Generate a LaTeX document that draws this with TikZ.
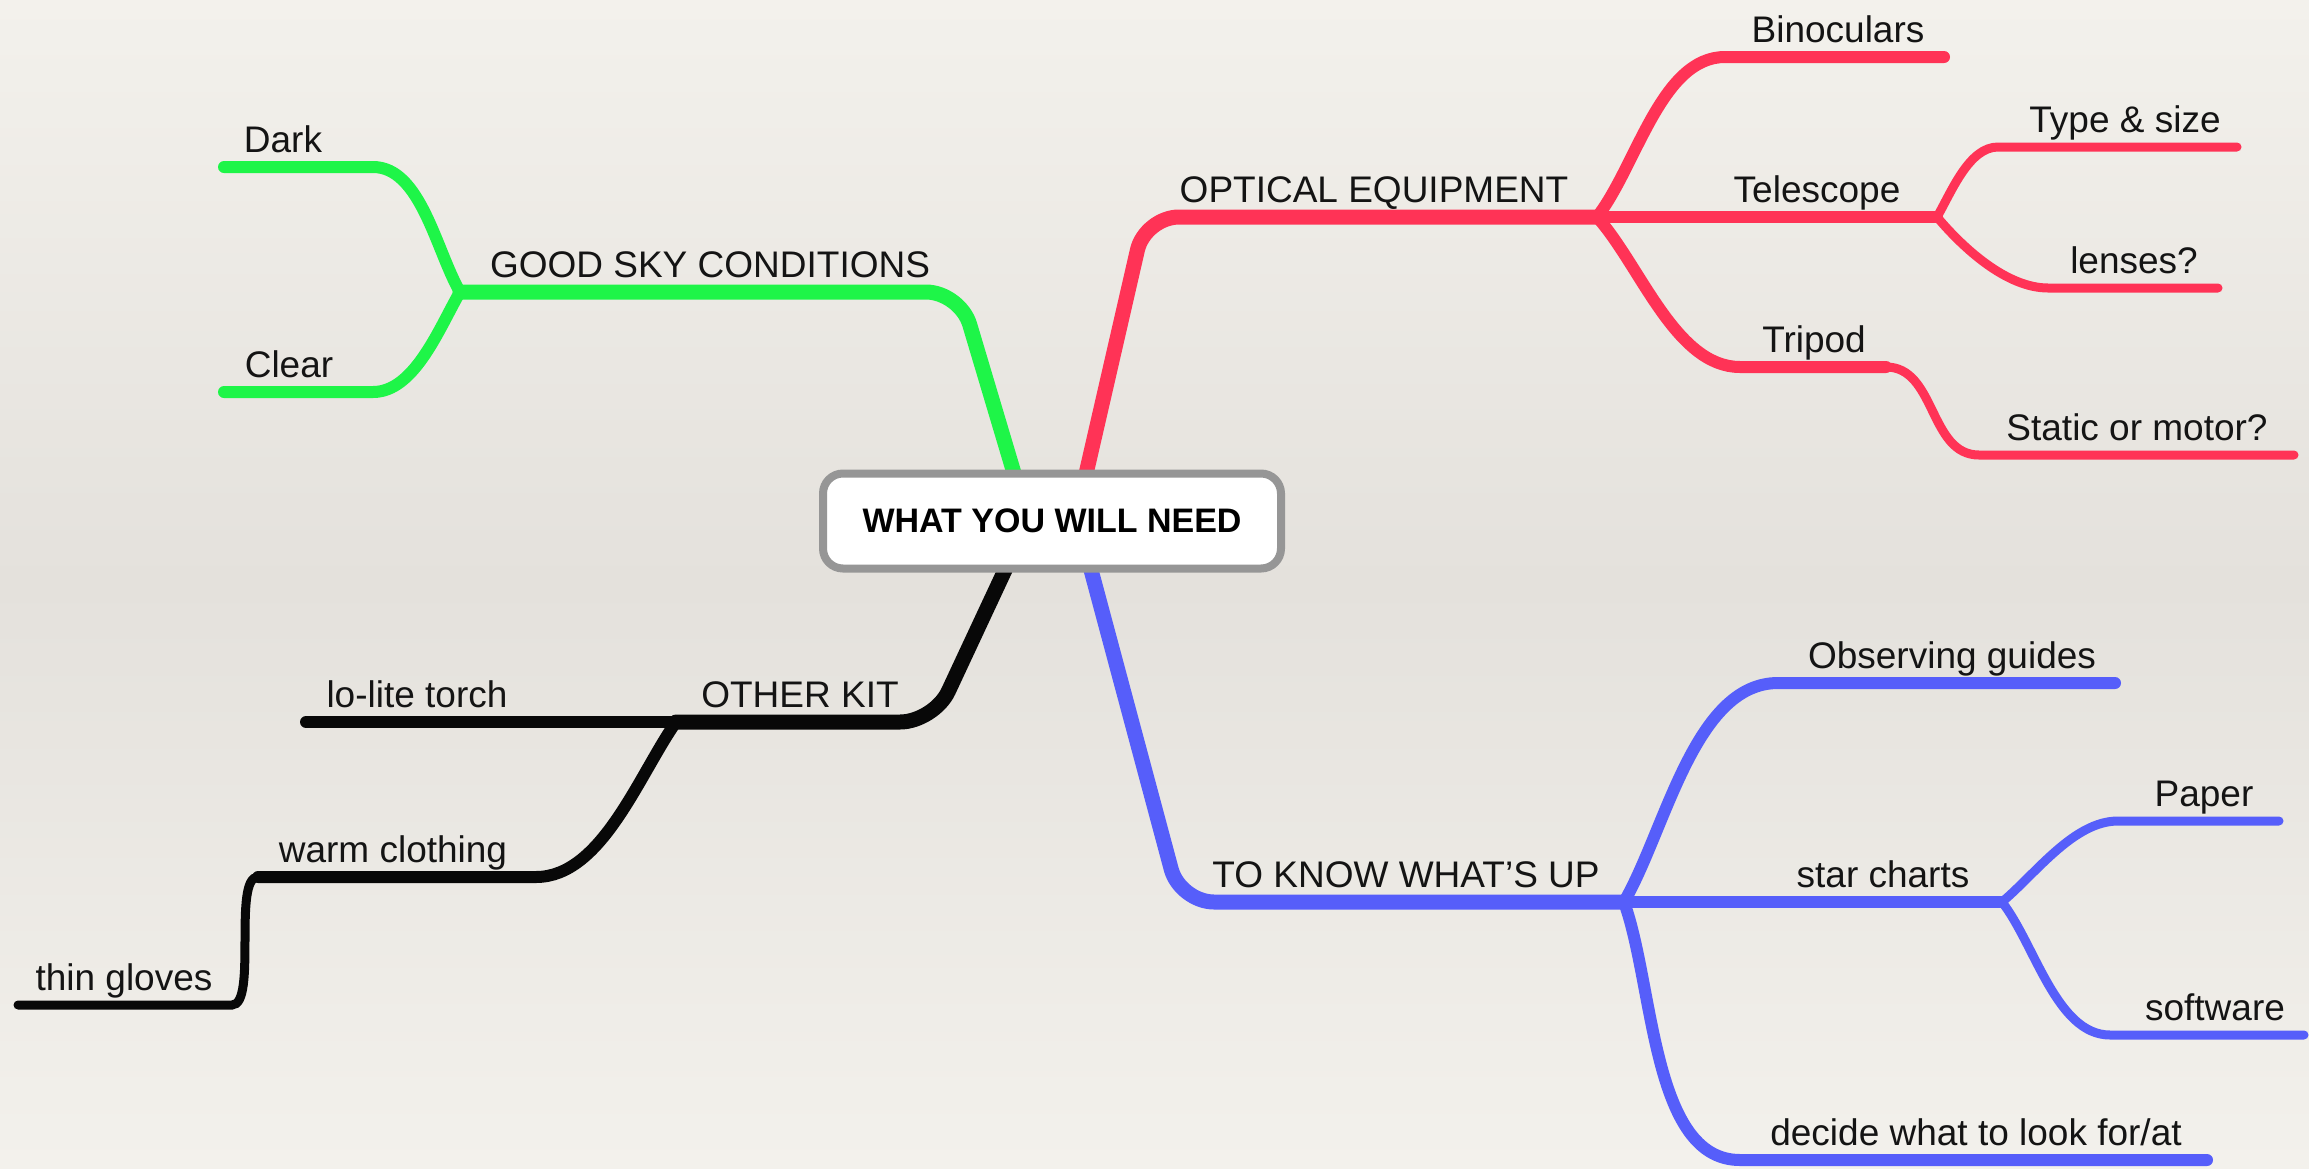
\documentclass[tikz,border=0pt]{standalone}
\usepackage{fontspec}
\setmainfont{Liberation Sans}
\definecolor{skygreen}{RGB}{30,245,72}
\definecolor{optred}{RGB}{255,51,86}
\definecolor{knowblue}{RGB}{86,94,250}
\definecolor{kitblack}{RGB}{8,8,8}
\definecolor{paper}{RGB}{243,241,236}
\definecolor{paperdark}{RGB}{228,225,220}
\definecolor{boxgrey}{RGB}{150,150,150}
\definecolor{ink}{RGB}{20,20,20}
\begin{document}
\begin{tikzpicture}[x=0.5pt,y=-0.5pt]
	\tikzset{
		lvl1/.style={line width=7.5pt, line cap=round, line join=round, rounded corners=17pt},
		lvl2/.style={line width=6pt, line cap=round},
		lvl3/.style={line width=4.5pt, line cap=round},
		lbl/.style={anchor=base, inner sep=0pt, text=ink, font=\fontsize{18.5}{22}\selectfont},
		hub/.style={draw=boxgrey, line width=4pt, fill=white, rounded corners=10pt,
			minimum width=229pt, minimum height=47.5pt, text=black,
			font=\bfseries\fontsize{17}{20}\selectfont}
	}
	\useasboundingbox (0,0) rectangle (2309,1168);
	\shade[top color=paper, bottom color=paper, middle color=paperdark] (0,0) rectangle (2309,1168);

	% good sky conditions
	\coordinate (ga)  at (1022,500);
	\coordinate (g0)  at (960,292);
	\coordinate (g1)  at (460,292);
	\coordinate (d0)  at (373,167);
	\coordinate (d1)  at (224,167);
	\coordinate (c0)  at (373,392);
	\coordinate (c1)  at (224,392);
	\draw[lvl1, skygreen] (ga) -- (g0) -- (g1);
	\draw[lvl2, skygreen] (g1) to[out=120,in=0,looseness=0.8] (d0) -- (d1);
	\draw[lvl2, skygreen] (g1) to[out=240,in=0,looseness=0.8] (c0) -- (c1);
	\node[lbl] (gsc)   at (710,277) {GOOD SKY CONDITIONS};
	\node[lbl] (dark)  at (283,152) {Dark};
	\node[lbl] (clear) at (289,377) {Clear};

	% optical equipment
	\coordinate (ra)  at (1080,500);
	\coordinate (o0)  at (1145,217);
	\coordinate (o1)  at (1597,217);
	\coordinate (b0)  at (1725,57);
	\coordinate (b1)  at (1944,57);
	\coordinate (t1)  at (1937,217);
	\coordinate (ty0) at (1998,147);
	\coordinate (ty1) at (2237,147);
	\coordinate (le0) at (2048,288);
	\coordinate (le1) at (2218,288);
	\coordinate (tr0) at (1740,367);
	\coordinate (tr1) at (1886,367);
	\coordinate (st0) at (1979,455);
	\coordinate (st1) at (2294,455);
	\draw[lvl1, optred] (ra) -- (o0) -- (o1);
	\draw[lvl2, optred] (o1) to[out=52,in=180,looseness=0.8] (b0) -- (b1);
	\draw[lvl2, optred] (o1) -- (t1);
	\draw[lvl3, optred] (t1) to[out=60,in=180,looseness=0.8] (ty0) -- (ty1);
	\draw[lvl3, optred] (t1) to[out=-50,in=180,looseness=0.8] (le0) -- (le1);
	\draw[lvl2, optred] (o1) to[out=-48,in=180,looseness=0.8] (tr0) -- (tr1);
	\draw[lvl3, optred] (tr1) to[out=0,in=180] (st0) -- (st1);
	\node[lbl] (opt)  at (1374,202) {OPTICAL EQUIPMENT};
	\node[lbl] (bino) at (1838,42)  {Binoculars};
	\node[lbl] (tele) at (1817,202) {Telescope};
	\node[lbl] (tys)  at (2125,132) {Type \& size};
	\node[lbl] (lens) at (2134,273) {lenses?};
	\node[lbl] (trip) at (1814,352) {Tripod};
	\node[lbl] (stat) at (2137,440) {Static or motor?};

	% to know what's up
	\coordinate (ba)  at (1083,540);
	\coordinate (k0)  at (1180,902);
	\coordinate (k1)  at (1624,902);
	\coordinate (ob0) at (1778,683);
	\coordinate (ob1) at (2115,683);
	\coordinate (sc1) at (2002,902);
	\coordinate (pa0) at (2118,821);
	\coordinate (pa1) at (2279,821);
	\coordinate (so0) at (2110,1035);
	\coordinate (so1) at (2304,1035);
	\coordinate (de0) at (1740,1160);
	\coordinate (de1) at (2207,1160);
	\draw[lvl1, knowblue] (ba) -- (k0) -- (k1);
	\draw[lvl2, knowblue] (k1) to[out=60,in=180,looseness=0.8] (ob0) -- (ob1);
	\draw[lvl2, knowblue] (k1) -- (sc1);
	\draw[lvl3, knowblue] (sc1) to[out=40,in=180,looseness=0.8] (pa0) -- (pa1);
	\draw[lvl3, knowblue] (sc1) to[out=-52,in=180,looseness=0.8] (so0) -- (so1);
	\draw[lvl2, knowblue] (k1) to[out=-70,in=180,looseness=0.8] (de0) -- (de1);
	\node[lbl] (know) at (1406,887)  {TO KNOW WHAT'S UP};
	\node[lbl] (obs)  at (1952,668)  {Observing guides};
	\node[lbl] (star) at (1883,887)  {star charts};
	\node[lbl] (pap)  at (2204,806)  {Paper};
	\node[lbl] (soft) at (2215,1020) {software};
	\node[lbl] (dec)  at (1976,1145) {decide what to look for/at};

	% other kit
	\coordinate (ka)  at (1019,540);
	\coordinate (ok0) at (934,722);
	\coordinate (ok1) at (676,722);
	\coordinate (lo1) at (306,722);
	\coordinate (wc0) at (536,877);
	\coordinate (wc1) at (258,877);
	\coordinate (tg0) at (232,1005);
	\coordinate (tg1) at (18,1005);
	\draw[lvl1, kitblack] (ka) -- (ok0) -- (ok1);
	\draw[lvl2, kitblack] (ok1) -- (lo1);
	\draw[lvl2, kitblack] (ok1) to[out=-125,in=0,looseness=0.8] (wc0) -- (wc1);
	\draw[lvl3, kitblack] (wc1) to[out=180,in=0,looseness=0.5] (tg0) -- (tg1);
	\node[lbl] (kit)   at (800,707) {OTHER KIT};
	\node[lbl] (torch) at (417,707) {lo-lite torch};
	\node[lbl] (warm)  at (393,862) {warm clothing};
	\node[lbl] (glov)  at (124,990) {thin gloves};

	% centre
	\node[hub] (root) at (1052,521) {WHAT YOU WILL NEED};
\end{tikzpicture}
\end{document}
